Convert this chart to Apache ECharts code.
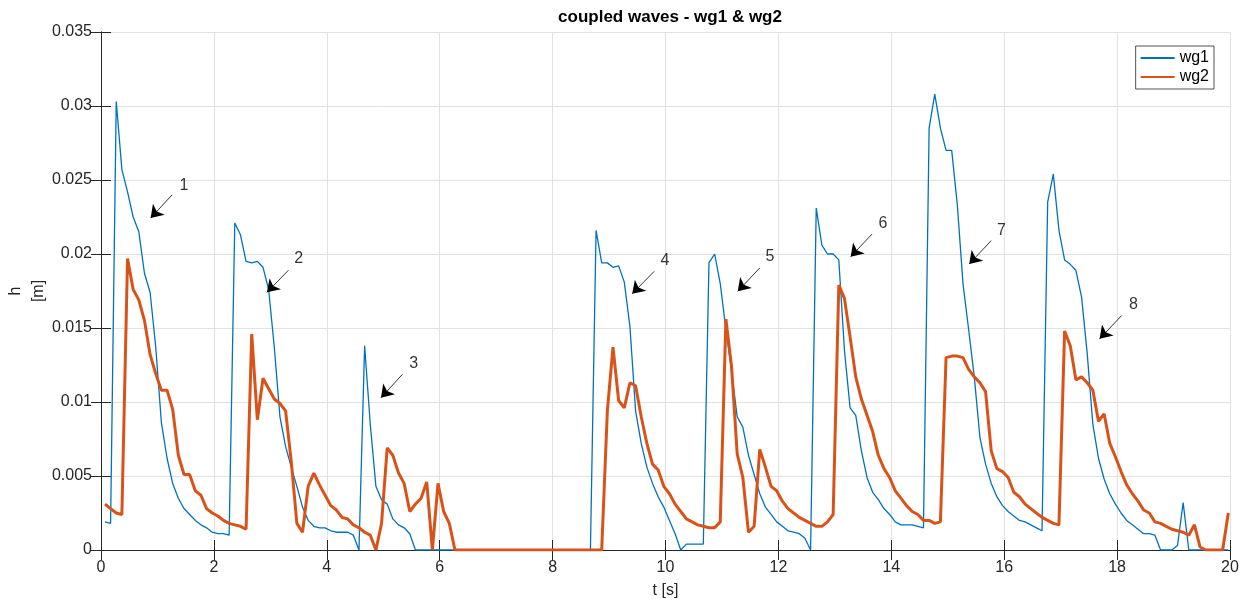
<!DOCTYPE html>
<html>
<head>
<meta charset="utf-8">
<script src="https://cdn.jsdelivr.net/npm/echarts@6/dist/echarts.min.js"></script>
<style>
html,body{margin:0;padding:0;background:#fff;}
#chart{width:1245px;height:603px;}
</style>
</head>
<body>
<div id="chart"></div>
<script>
// sampling grid: 200 samples, dt = 0.1 s
const t0 = 0.07, dt = 0.1;
const times = Array.from({length: 200}, (_, i) => +(t0 + dt * i).toFixed(2));

const wg1 = [
  0.0019,0.0018,0.0303,0.0257,0.0242,0.0225,0.0215,0.0187,0.0174,0.0137,
  0.0086,0.0062,0.0045,0.0035,0.0028,0.0024,0.0020,0.0017,0.0015,0.0012,
  0.0011,0.0011,0.0010,0.0221,0.0213,0.0195,0.0194,0.0195,0.0191,0.0176,
  0.0137,0.0090,0.0070,0.0056,0.0043,0.0029,0.0020,0.0016,0.0015,0.0015,
  0.0013,0.0012,0.0012,0.0012,0.0010,0,0.0138,0.0085,0.0043,0.0034,
  0.0031,0.0021,0.0017,0.0015,0.0011,0,0,0,0,0,
  0,0,0,0,0,0,0,0,0,0,
  0,0,0,0,0,0,0,0,0,0,
  0,0,0,0,0,0,0,0.0216,0.0194,0.0194,
  0.0191,0.0192,0.0181,0.0151,0.0094,0.0072,0.0056,0.0045,0.0036,0.0029,
  0.0020,0.0011,0,0.0004,0.0004,0.0004,0.0004,0.0194,0.0200,0.0180,
  0.0149,0.0121,0.0090,0.0083,0.0064,0.0051,0.0038,0.0029,0.0024,0.0019,
  0.0016,0.0013,0.0012,0.0011,0.0008,0,0.0231,0.0206,0.0200,0.0200,
  0.0196,0.0135,0.0096,0.0091,0.0067,0.0049,0.0039,0.0034,0.0028,0.0024,
  0.0019,0.0017,0.0017,0.0017,0.0016,0.0015,0.0285,0.0308,0.0285,0.0270,
  0.0270,0.0233,0.0180,0.0149,0.0117,0.0076,0.0058,0.0045,0.0036,0.0030,
  0.0026,0.0023,0.0020,0.0019,0.0017,0.0015,0.0013,0.0235,0.0254,0.0216,
  0.0196,0.0193,0.0189,0.0171,0.0133,0.0085,0.0062,0.0048,0.0038,0.0031,
  0.0025,0.0020,0.0017,0.0014,0.0011,0.0011,0.0010,0,0,0,
  0.0003,0.0032,0,0,0,0,0,0,0,0
];

const wg2 = [
  0.0031,0.0028,0.0025,0.0024,0.0197,0.0176,0.0169,0.0155,0.0132,0.0119,
  0.0108,0.0108,0.0095,0.0064,0.0051,0.0051,0.0040,0.0037,0.0028,0.0025,
  0.0023,0.0020,0.0018,0.0017,0.0016,0.0014,0.0146,0.0088,0.0116,0.0109,
  0.0102,0.0099,0.0094,0.0060,0.0018,0.0012,0.0043,0.0052,0.0044,0.0037,
  0.0030,0.0027,0.0022,0.0021,0.0017,0.0015,0.0012,0.0010,0,0.0018,
  0.0069,0.0064,0.0052,0.0045,0.0026,0.0031,0.0035,0.0046,0,0.0045,
  0.0026,0.0018,0,0,0,0,0,0,0,0,
  0,0,0,0,0,0,0,0,0,0,
  0,0,0,0,0,0,0,0,0,0.0094,
  0.0137,0.0101,0.0096,0.0113,0.0111,0.0090,0.0072,0.0058,0.0054,0.0043,
  0.0038,0.0031,0.0026,0.0021,0.0019,0.0017,0.0016,0.0015,0.0015,0.0019,
  0.0156,0.0124,0.0065,0.0049,0.0012,0.0016,0.0068,0.0056,0.0043,0.0040,
  0.0033,0.0028,0.0025,0.0022,0.0020,0.0018,0.0016,0.0016,0.0019,0.0024,
  0.0179,0.0170,0.0144,0.0117,0.0102,0.0091,0.0080,0.0064,0.0055,0.0049,
  0.0040,0.0035,0.0030,0.0026,0.0024,0.0020,0.0020,0.0018,0.0019,0.0130,
  0.0131,0.0131,0.0130,0.0122,0.0117,0.0113,0.0107,0.0067,0.0055,0.0053,
  0.0049,0.0039,0.0036,0.0031,0.0028,0.0025,0.0022,0.0020,0.0018,0.0017,
  0.0148,0.0138,0.0115,0.0117,0.0113,0.0108,0.0087,0.0092,0.0072,0.0063,
  0.0053,0.0044,0.0038,0.0033,0.0027,0.0025,0.0019,0.0018,0.0016,0.0014,
  0.0013,0.0012,0.0010,0.0017,0.0002,0,0,0,0,0.0025
];

// annotation arrows (data units): label, tail [t,h], head [t,h], label position [t,h]
const arrowLabels = ['1','2','3','4','5','6','7','8'];
const arrowTails = [[1.26,0.0240],[3.32,0.0189],[5.34,0.01187],[9.80,0.01883],[11.67,0.01906],[13.66,0.02135],[15.77,0.0209],[18.08,0.01584]];
const arrowHeads = [[0.88,0.02243],[2.94,0.01741],[4.96,0.01029],[9.41,0.01731],[11.28,0.01748],[13.28,0.01982],[15.38,0.01933],[17.69,0.01427]];
const labelPoints = [[1.47,0.02461],[3.50,0.01966],[5.54,0.01259],[9.99,0.01955],[11.85,0.01982],[13.85,0.02207],[15.95,0.02157],[18.29,0.01658]];

const xTicks = {min: 0, max: 20, interval: 2};
const yTicks = {min: 0, max: 0.035, interval: 0.005};

const FONT = 'Liberation Sans, Arial, Helvetica, sans-serif';
const INK = '#262626';

const chart = echarts.init(document.getElementById('chart'), null, {renderer: 'canvas'});

const baseAxisLine = {show: true, lineStyle: {color: INK, width: 1}};
const baseTick = {show: true, inside: true, length: 10, lineStyle: {color: INK, width: 1}};
const gridLine = {show: true, lineStyle: {color: '#e2e2e2', width: 1}};

chart.setOption({
  animation: false,
  backgroundColor: '#ffffff',
  title: {
    text: 'coupled waves - wg1 & wg2',
    left: 665, top: 4, textAlign: 'center',
    textStyle: {fontFamily: FONT, fontSize: 17, fontWeight: 'bold', color: '#000'}
  },
  grid: {left: 101, right: 15, top: 32, bottom: 53, containLabel: false, outerBoundsMode: 'none'},
  legend: {
    data: ['wg1', 'wg2'],
    orient: 'vertical',
    right: 31, top: 46,
    padding: [4, 5, 4, 4],
    itemWidth: 34, itemHeight: 16, itemGap: 3,
    itemStyle: {opacity: 0},
    backgroundColor: '#fff',
    borderColor: INK, borderWidth: 0.8, borderRadius: 0,
    textStyle: {fontFamily: FONT, fontSize: 16, color: '#000'}
  },
  xAxis: [{
    type: 'value', position: 'bottom',
    min: xTicks.min, max: xTicks.max, interval: xTicks.interval,
    name: 't [s]', nameLocation: 'middle', nameGap: 33, nameMoveOverlap: false,
    nameTextStyle: {fontFamily: FONT, fontSize: 16, color: INK},
    axisLine: baseAxisLine, axisTick: baseTick,
    axisLabel: {fontFamily: FONT, fontSize: 16, color: INK, margin: 10},
    splitLine: gridLine
  }, {
    type: 'value', position: 'top',
    min: xTicks.min, max: xTicks.max, interval: xTicks.interval,
    axisLine: baseAxisLine, axisTick: baseTick,
    axisLabel: {show: false}, splitLine: {show: false}
  }],
  yAxis: [{
    type: 'value', position: 'left',
    min: yTicks.min, max: yTicks.max, interval: yTicks.interval,
    name: 'h\n[m]', nameLocation: 'middle', nameRotate: 90, nameGap: 51, nameMoveOverlap: false,
    nameTextStyle: {fontFamily: FONT, fontSize: 16, color: INK, lineHeight: 23},
    axisLine: baseAxisLine, axisTick: baseTick,
    axisLabel: {fontFamily: FONT, fontSize: 16, color: INK, margin: 9,
      formatter: v => String(parseFloat(v.toFixed(4)))},
    splitLine: gridLine
  }, {
    type: 'value', position: 'right',
    min: yTicks.min, max: yTicks.max, interval: yTicks.interval,
    axisLine: baseAxisLine, axisTick: baseTick,
    axisLabel: {show: false}, splitLine: {show: false}
  }],
  series: [{
    name: 'wg1', type: 'line', xAxisIndex: 0, yAxisIndex: 0,
    data: times.map((t, i) => [t, wg1[i]]),
    symbol: 'none', showSymbol: false,
    lineStyle: {color: '#0072BD', width: 1.3},
    itemStyle: {color: '#0072BD'},
    z: 2
  }, {
    name: 'wg2', type: 'line', xAxisIndex: 0, yAxisIndex: 0,
    data: times.map((t, i) => [t, wg2[i]]),
    symbol: 'none', showSymbol: false,
    lineStyle: {color: '#D95319', width: 3},
    itemStyle: {color: '#D95319'},
    z: 3
  }, {
    name: 'arrows', type: 'lines', coordinateSystem: 'cartesian2d',
    xAxisIndex: 0, yAxisIndex: 0,
    data: arrowTails.map((p, i) => ({coords: [p, arrowHeads[i]]})),
    symbol: ['none', 'arrow'], symbolSize: 12,
    lineStyle: {color: '#000', width: 0.8, opacity: 1, curveness: 0},
    silent: true, z: 4
  }, {
    name: 'labels', type: 'scatter', xAxisIndex: 0, yAxisIndex: 0,
    data: labelPoints.map((p, i) => ({value: p, label: {formatter: arrowLabels[i]}})),
    symbolSize: 0,
    label: {show: true, position: 'inside', fontFamily: FONT, fontSize: 16, color: '#000'},
    silent: true, z: 5
  }]
});
</script>
</body>
</html>
